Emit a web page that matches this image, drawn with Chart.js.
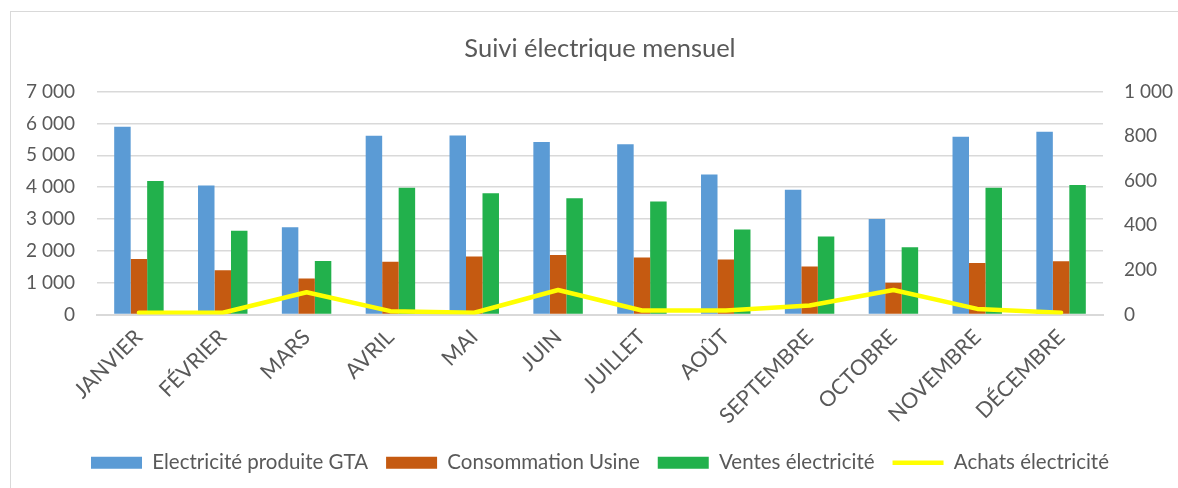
<!DOCTYPE html>
<html lang="fr">
<head>
<meta charset="utf-8">
<script src="https://cdn.jsdelivr.net/npm/chart.js@4/dist/chart.umd.min.js"></script>
<style>
  html, body { margin: 0; padding: 0; background: #fff; overflow: hidden; }
  #cadre { position: absolute; left: 10px; top: 11px; width: 1200px; height: 500px; border: 1.5px solid #d9d9d9; }
  #zone { position: absolute; left: 0; top: 0; width: 1190px; height: 488px; }
</style>
</head>
<body>
<div id="cadre"></div>
<div id="zone"><canvas id="graphique"></canvas></div>
<script>
// données
const mois = ["JANVIER", "FÉVRIER", "MARS", "AVRIL", "MAI", "JUIN", "JUILLET", "AOÛT", "SEPTEMBRE", "OCTOBRE", "NOVEMBRE", "DÉCEMBRE"];
const production = [5900, 4050, 2740, 5610, 5620, 5420, 5350, 4400, 3920, 3000, 5580, 5740];
const consommation = [1740, 1390, 1130, 1660, 1820, 1870, 1790, 1730, 1510, 1000, 1620, 1670];
const ventes = [4190, 2630, 1680, 3980, 3810, 3650, 3550, 2670, 2450, 2110, 3980, 4070];
const achats = [8, 8, 100, 15, 8, 110, 18, 18, 40, 110, 25, 8];

const gris = "#595959";
const police = "Lato";

function milliers(v) {
  return String(v).replace(/\B(?=(\d{3})+(?!\d))/g, " ");
}

const ctx = document.getElementById("graphique").getContext("2d");

new Chart(ctx, {
  type: "bar",
  data: {
    labels: mois,
    datasets: [
      { label: "Electricité produite GTA", data: production, backgroundColor: "#5b9bd5", yAxisID: "y", pointStyle: "rect" },
      { label: "Consommation Usine", data: consommation, backgroundColor: "#c55a11", yAxisID: "y", pointStyle: "rect" },
      { label: "Ventes électricité", data: ventes, backgroundColor: "#22b14c", yAxisID: "y", pointStyle: "rect" },
      {
        type: "line", label: "Achats électricité", data: achats, yAxisID: "y2",
        borderColor: "#ffff00", backgroundColor: "#ffff00", borderWidth: 4.5,
        pointRadius: 0, tension: 0, borderJoinStyle: "round", borderCapStyle: "round",
        pointStyle: "line", order: -1
      }
    ]
  },
  options: {
    responsive: true,
    maintainAspectRatio: false,
    animation: false,
    categoryPercentage: 0.59,
    barPercentage: 1.0,
    layout: { padding: { left: 10, right: 0, top: 0, bottom: 5 } },
    plugins: {
      title: {
        display: true,
        text: "Suivi électrique mensuel",
        color: gris,
        font: { family: police, size: 25.5, weight: "normal" },
        padding: { top: 33, bottom: 28 }
      },
      legend: {
        position: "bottom",
        labels: {
          usePointStyle: true,
          pointStyleWidth: 51,
          boxHeight: 12,
          padding: 18,
          color: gris,
          font: { family: police, size: 20.5 },
          sort: (a, b) => a.datasetIndex - b.datasetIndex
        }
      },
      tooltip: { enabled: false }
    },
    scales: {
      x: {
        grid: { display: false },
        border: { display: true, color: "#d9d9d9", width: 2 },
        ticks: {
          color: gris, maxRotation: 45, minRotation: 45, padding: 2,
          font: { family: police, size: 21.5 }
        },
        afterFit: (s) => { s.height = 120; }
      },
      y: {
        position: "left",
        min: 0, max: 7000,
        ticks: { stepSize: 1000, color: gris, padding: 22, font: { family: police, size: 19 }, callback: (v) => milliers(v) },
        grid: { color: "#d9d9d9", lineWidth: 1.5, drawTicks: false },
        border: { display: false },
        afterFit: (s) => { s.width = 87; }
      },
      y2: {
        position: "right",
        min: 0, max: 1000,
        ticks: { stepSize: 200, color: gris, padding: 21, font: { family: police, size: 19 }, callback: (v) => milliers(v) },
        grid: { display: false, drawTicks: false },
        border: { display: false },
        afterFit: (s) => { s.width = 87; }
      }
    }
  }
});
</script>
</body>
</html>
